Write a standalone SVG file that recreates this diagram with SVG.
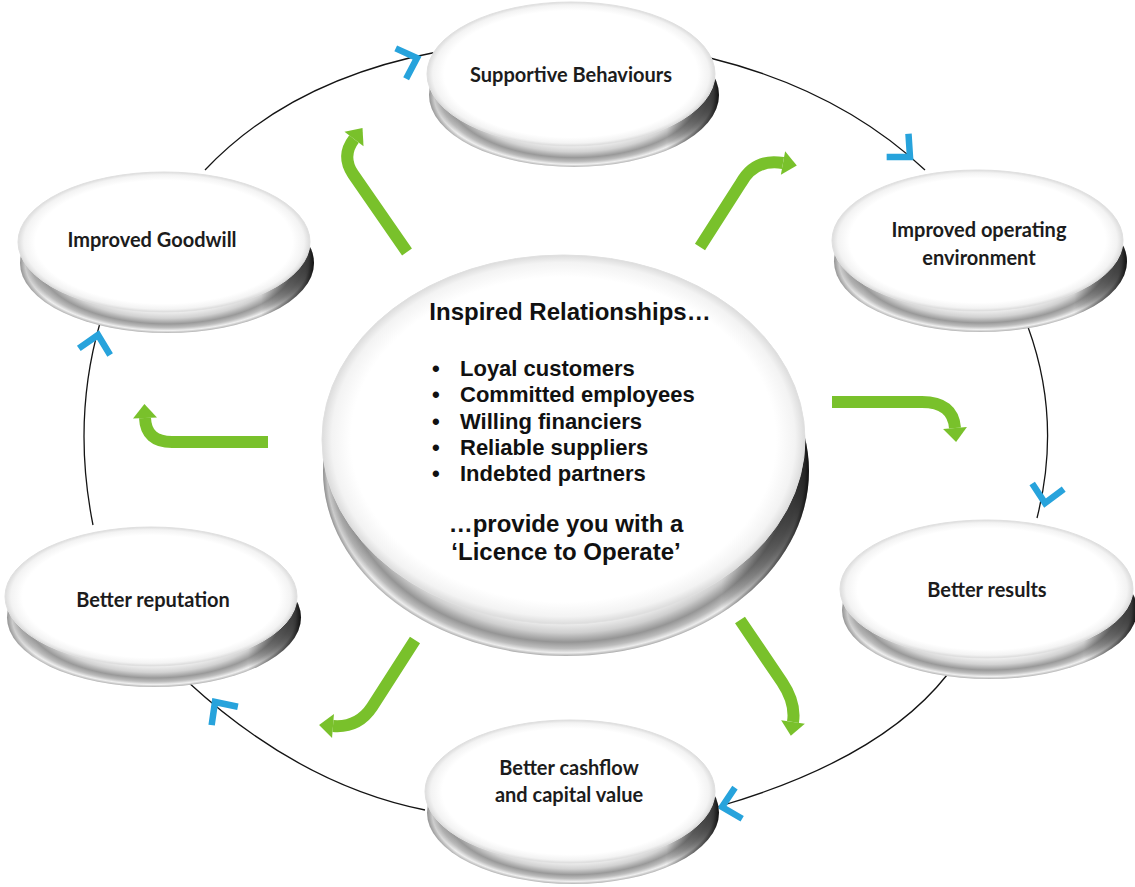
<svg xmlns="http://www.w3.org/2000/svg" width="1135" height="887" viewBox="0 0 1135 887">
  <defs>
    <style>
      .rim{fill:url(#rimS)}
      .rimL{fill:url(#rimL)}
      .shade{fill:url(#side)}
      .face{fill:url(#face);stroke:#e0e0e0;stroke-width:1}
      .lbl{font-family:Lato,"Open Sans","Liberation Sans",sans-serif;font-weight:700;font-size:20px;fill:#1c1c1c;text-anchor:middle}
      .hub{font-family:"Liberation Sans",Arial,sans-serif;font-weight:700;fill:#111}
      .cycle{fill:none;stroke:#141414;stroke-width:1.3}
      .chev{fill:none;stroke:#27a3dc;stroke-width:6.5;stroke-linejoin:miter}
      .flow{fill:none;stroke:#79c12b;stroke-width:12;marker-end:url(#head)}
    </style>
    <radialGradient id="face" cx=".5" cy=".5" r=".5">
      <stop offset="0" stop-color="#fff"/>
      <stop offset=".88" stop-color="#fff"/>
      <stop offset=".96" stop-color="#f3f3f3"/>
      <stop offset="1" stop-color="#dcdcdc"/>
    </radialGradient>
    <radialGradient id="rimS" cx=".5" cy=".5" r=".5">
      <stop offset=".68" stop-color="#f6f6f6"/>
      <stop offset=".79" stop-color="#d2d2d2"/>
      <stop offset=".87" stop-color="#999"/>
      <stop offset=".925" stop-color="#bdbdbd"/>
      <stop offset=".965" stop-color="#efefef"/>
      <stop offset="1" stop-color="#b3b3b3"/>
    </radialGradient>
    <radialGradient id="rimL" cx=".5" cy=".5" r=".5">
      <stop offset=".81" stop-color="#f6f6f6"/>
      <stop offset=".875" stop-color="#cfcfcf"/>
      <stop offset=".925" stop-color="#959595"/>
      <stop offset=".96" stop-color="#bcbcbc"/>
      <stop offset=".983" stop-color="#ededed"/>
      <stop offset="1" stop-color="#acacac"/>
    </radialGradient>
    <linearGradient id="side" x1="0" y1="0" x2="1" y2="0">
      <stop offset="0" stop-color="#000" stop-opacity=".18"/>
      <stop offset=".1" stop-color="#000" stop-opacity="0"/>
      <stop offset=".82" stop-color="#000" stop-opacity="0"/>
      <stop offset=".97" stop-color="#000" stop-opacity=".7"/>
      <stop offset="1" stop-color="#000" stop-opacity=".9"/>
    </linearGradient>
    <marker id="head" viewBox="0 0 16 26" markerUnits="userSpaceOnUse" markerWidth="16" markerHeight="26" refX="0" refY="13" orient="auto" overflow="visible">
      <path d="M0,1 L14,13 L0,25 Z" fill="#79c12b"/>
    </marker>
    <path id="chevron" d="M-17,-16 L0,0 L-17,16"/>
  </defs>

  <rect width="1135" height="887" fill="#fff"/>

  <!-- cycle connectors, direction chevrons and green flow arrows -->
  <g id="connectors">
    <path class="cycle" d="M205,170 Q290,80 437,52"/>
    <path class="cycle" d="M710,58 Q840,90 925,170"/>
    <path class="cycle" d="M1028,327 Q1062,420 1037,518"/>
    <path class="cycle" d="M947,675 Q880,760 717,807"/>
    <path class="cycle" d="M425,810 Q300,785 188,682"/>
    <path class="cycle" d="M93,525 Q72,420 100,323"/>

    <use href="#chevron" class="chev" transform="translate(417,58) rotate(-19)"/>
    <use href="#chevron" class="chev" transform="translate(910,157) rotate(43)"/>
    <use href="#chevron" class="chev" transform="translate(1045,503) rotate(100)"/>
    <use href="#chevron" class="chev" transform="translate(722,807) rotate(167)"/>
    <use href="#chevron" class="chev" transform="translate(215,702) rotate(-125)"/>
    <use href="#chevron" class="chev" transform="translate(98,335) rotate(-78)"/>

    <path class="flow" d="M407,252 L353,174 Q341,156 354,139"/>
    <path class="flow" d="M700,247 L741,183 Q755,158 783,163"/>
    <path class="flow" d="M832,402 L922,402 Q953,402 955,428"/>
    <path class="flow" d="M740,620 L782,682 Q796,703 793,722"/>
    <path class="flow" d="M415,640 L372,707 Q358,728 333,726"/>
    <path class="flow" d="M268,442 L172,442 Q146,442 145,418"/>
  </g>

  <g id="hub">
    <ellipse class="rimL" cx="566" cy="471" rx="243" ry="185"/>
    <ellipse class="shade" cx="566" cy="471" rx="243" ry="185"/>
    <ellipse class="face" cx="563.5" cy="439.5" rx="241.5" ry="184.5"/>
    <text class="hub" x="570" y="320" font-size="24" text-anchor="middle">Inspired Relationships…</text>
    <g font-size="22" class="hub">
      <text x="432" y="376">•</text><text x="460" y="376">Loyal customers</text>
      <text x="432" y="402">•</text><text x="460" y="402">Committed employees</text>
      <text x="432" y="429">•</text><text x="460" y="429">Willing financiers</text>
      <text x="432" y="455">•</text><text x="460" y="455">Reliable suppliers</text>
      <text x="432" y="481">•</text><text x="460" y="481">Indebted partners</text>
    </g>
    <text class="hub" font-size="24" text-anchor="middle" x="566" y="532">…provide you with a</text>
    <text class="hub" font-size="24" text-anchor="middle" x="566" y="560">‘Licence to Operate’</text>
  </g>

  <g id="supportive-behaviours">
    <ellipse class="rim" cx="574" cy="95" rx="145" ry="72"/>
    <ellipse class="shade" cx="574" cy="95" rx="145" ry="72"/>
    <ellipse class="face" cx="571" cy="74" rx="144" ry="72"/>
    <text class="lbl" x="571" y="82">Supportive Behaviours</text>
  </g>

  <g id="improved-operating-environment">
    <ellipse class="rim" cx="980.5" cy="261.5" rx="146.5" ry="70.5"/>
    <ellipse class="shade" cx="980.5" cy="261.5" rx="146.5" ry="70.5"/>
    <ellipse class="face" cx="977.5" cy="240.5" rx="145.5" ry="70.5"/>
    <text class="lbl" x="979" y="237">Improved operating</text>
    <text class="lbl" x="979" y="265">environment</text>
  </g>

  <g id="better-results">
    <ellipse class="rim" cx="989.5" cy="610" rx="147.5" ry="69"/>
    <ellipse class="shade" cx="989.5" cy="610" rx="147.5" ry="69"/>
    <ellipse class="face" cx="986.5" cy="589" rx="146.5" ry="69"/>
    <text class="lbl" x="987" y="597">Better results</text>
  </g>

  <g id="better-cashflow">
    <ellipse class="rim" cx="573" cy="812.5" rx="146" ry="71.5"/>
    <ellipse class="shade" cx="573" cy="812.5" rx="146" ry="71.5"/>
    <ellipse class="face" cx="570" cy="791.5" rx="145" ry="71.5"/>
    <text class="lbl" x="569" y="775">Better cashflow</text>
    <text class="lbl" x="569" y="802">and capital value</text>
  </g>

  <g id="better-reputation">
    <ellipse class="rim" cx="154" cy="617.5" rx="147" ry="69.5"/>
    <ellipse class="shade" cx="154" cy="617.5" rx="147" ry="69.5"/>
    <ellipse class="face" cx="151" cy="596.5" rx="146" ry="69.5"/>
    <text class="lbl" x="153" y="607">Better reputation</text>
  </g>

  <g id="improved-goodwill">
    <ellipse class="rim" cx="167" cy="263" rx="147" ry="70"/>
    <ellipse class="shade" cx="167" cy="263" rx="147" ry="70"/>
    <ellipse class="face" cx="164" cy="242" rx="146" ry="70"/>
    <text class="lbl" x="152" y="247">Improved Goodwill</text>
  </g>
</svg>
